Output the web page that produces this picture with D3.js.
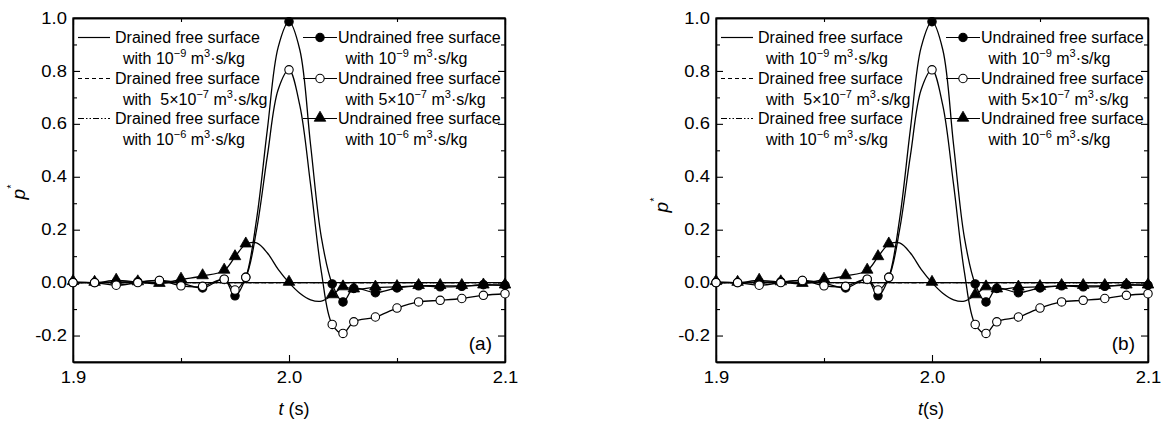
<!DOCTYPE html>
<html>
<head>
<meta charset="utf-8">
<script src="https://cdn.jsdelivr.net/npm/d3@7"></script>
<style>
  html, body { margin: 0; padding: 0; background: #fff; }
  svg { display: block; font-family: "Liberation Sans", Arial, sans-serif; }
  text { white-space: pre; }
</style>
</head>
<body>
<svg id="chart" width="1164" height="423"></svg>
<script>
// ---------------- data ----------------
const tLine = [1.90, 1.91, 1.92, 1.93, 1.94, 1.95, 1.96, 1.97, 1.975, 1.98, 1.985, 1.99, 1.995, 2.00,
               2.005, 2.01, 2.015, 2.02, 2.025, 2.03, 2.04, 2.05, 2.06, 2.07, 2.08, 2.09, 2.10];
// times at which markers are shown
const markerT = [1.90, 1.91, 1.92, 1.93, 1.94, 1.95, 1.96, 1.97, 1.975, 1.98, 2.00,
                 2.02, 2.025, 2.03, 2.04, 2.05, 2.06, 2.07, 2.08, 2.09, 2.10];
// undrained free surface, k = 1e-9
const undrained9 = [0.0, 0.0, 0.002, 0.003, 0.008, -0.002, -0.02, 0.012, -0.05, 0.02, 0.24, 0.58, 0.89, 0.986,
                    0.88, 0.52, 0.17, -0.005, -0.073, -0.022, -0.038, -0.02, -0.012, -0.016, -0.014, -0.008, -0.01];
// undrained free surface, k = 5e-7
const undrained57 = [0.0, 0.0, -0.01, 0.0, 0.008, -0.012, -0.014, 0.013, -0.028, 0.02, 0.2, 0.48, 0.73, 0.804,
                     0.67, 0.37, 0.04, -0.158, -0.192, -0.148, -0.13, -0.096, -0.073, -0.067, -0.06, -0.048, -0.042];
// undrained free surface, k = 1e-6
const undrained6 = [0.003, 0.0, 0.008, 0.002, -0.004, 0.012, 0.025, 0.046, 0.097, 0.145, 0.15, 0.112, 0.05, 0.0,
                    -0.04, -0.065, -0.07, -0.047, -0.017, -0.025, -0.018, -0.016, -0.012, -0.012, -0.012, -0.01, -0.01];
// drained free surface (all three permeabilities coincide at zero)
const tDrained = [1.90, 1.95, 2.00, 2.05, 2.10];
const drained9 = [0, 0, 0, 0, 0];
const drained57 = [0, 0, 0, 0, 0];
const drained6 = [0, 0, 0, 0, 0];

const xMajor = [1.9, 2.0, 2.1];
const xMinor = [1.95, 2.05];
const xTickLabels = ["1.9", "2.0", "2.1"];
const yMajor = [-0.2, 0.0, 0.2, 0.4, 0.6, 0.8, 1.0];
const yMinor = [-0.1, 0.1, 0.3, 0.5, 0.7, 0.9];
const yTickLabels = ["-0.2", "0.0", "0.2", "0.4", "0.6", "0.8", "1.0"];

const permBase = ["10", "5×10", "10"];
const permExp = ["−9", "−7", "−6"];
const drainedLabel = "Drained free surface";
const undrainedLabel = "Undrained free surface";
const panelLabels = ["(a)", "(b)"];

// ---------------- drawing ----------------
const svg = d3.select("#chart");
const dashes = [null, "4,3", "6,2,1.5,2,1.5,2"];
const drainedSeries = [drained9, drained57, drained6];
const undrainedSeries = [undrained9, undrained57, undrained6];
const markerKinds = ["filledCircle", "openCircle", "triangle"];

function drawMarker(g, kind, x, y) {
  if (kind === "triangle") {
    g.append("path")
      .attr("d", d3.symbol().type(d3.symbolTriangle).size(58)())
      .attr("transform", `translate(${x},${y - 0.6})`)
      .attr("fill", "#000").attr("stroke", "#000").attr("stroke-width", 0.8);
  } else {
    g.append("circle").attr("cx", x).attr("cy", y).attr("r", 4.2)
      .attr("fill", kind === "filledCircle" ? "#000" : "#fff")
      .attr("stroke", "#000").attr("stroke-width", 1.1);
  }
}

function permText(textSel, prefix, i) {
  textSel.append("tspan").text(prefix + permBase[i]);
  textSel.append("tspan").attr("font-size", 11).attr("dy", -7).text(permExp[i]);
  textSel.append("tspan").attr("dy", 7).text(" m");
  textSel.append("tspan").attr("font-size", 11).attr("dy", -7).text("3");
  textSel.append("tspan").attr("dy", 7).text("·s/kg");
}

function drawPanel(left, right, top, bottom, label, xLabelText, xLabelX, yLabelY) {
  const g = svg.append("g");
  const x = d3.scaleLinear().domain([1.9, 2.1]).range([left, right]);
  const y = d3.scaleLinear().domain([-0.3, 1.0]).range([bottom, top]);
  const stretch = "scale(1.15,1)";

  // axes
  const axB = g.append("g").attr("transform", `translate(0,${bottom})`)
    .call(d3.axisBottom(x).tickValues(xMajor).tickSizeInner(-7).tickSizeOuter(0).tickPadding(10)
      .tickFormat((d, i) => xTickLabels[i]));
  axB.selectAll("text").attr("transform", stretch);
  g.append("g").attr("transform", `translate(0,${bottom})`)
    .call(d3.axisBottom(x).tickValues(xMinor).tickSizeInner(-4).tickSizeOuter(0).tickFormat(""));
  g.append("g").attr("transform", `translate(0,${top})`)
    .call(d3.axisTop(x).tickValues(xMajor).tickSizeInner(-7).tickSizeOuter(0).tickFormat(""));
  g.append("g").attr("transform", `translate(0,${top})`)
    .call(d3.axisTop(x).tickValues(xMinor).tickSizeInner(-4).tickSizeOuter(0).tickFormat(""));

  const axL = g.append("g").attr("transform", `translate(${left},0)`)
    .call(d3.axisLeft(y).tickValues(yMajor).tickSizeInner(-7).tickSizeOuter(0).tickPadding(5.3)
      .tickFormat((d, i) => yTickLabels[i]));
  axL.selectAll("text").attr("transform", stretch);
  g.append("g").attr("transform", `translate(${left},0)`)
    .call(d3.axisLeft(y).tickValues(yMinor).tickSizeInner(-4).tickSizeOuter(0).tickFormat(""));
  g.append("g").attr("transform", `translate(${right},0)`)
    .call(d3.axisRight(y).tickValues(yMajor).tickSizeInner(-7).tickSizeOuter(0).tickFormat(""));
  g.append("g").attr("transform", `translate(${right},0)`)
    .call(d3.axisRight(y).tickValues(yMinor).tickSizeInner(-4).tickSizeOuter(0).tickFormat(""));

  g.selectAll(".domain").attr("stroke", "#000").attr("stroke-width", 1.3);
  g.selectAll(".tick line").attr("stroke", "#000").attr("stroke-width", 1.1);
  g.selectAll(".tick text").attr("font-size", 16).attr("fill", "#000")
    .attr("font-family", "'Liberation Sans', Arial, sans-serif");

  // frame
  g.append("rect").attr("x", left).attr("y", top).attr("width", right - left).attr("height", bottom - top)
    .attr("fill", "none").attr("stroke", "#000").attr("stroke-width", 1.3);

  const line = d3.line().curve(d3.curveCatmullRom.alpha(0.5));

  // drained lines
  drainedSeries.forEach((vals, s) => {
    g.append("path")
      .attr("d", line(tDrained.map((t, i) => [x(t), y(vals[i])])))
      .attr("fill", "none").attr("stroke", "#000").attr("stroke-width", 1.4)
      .attr("stroke-dasharray", dashes[s]);
  });

  // undrained lines + markers
  undrainedSeries.forEach((vals, s) => {
    g.append("path")
      .attr("d", line(tLine.map((t, i) => [x(t), y(vals[i])])))
      .attr("fill", "none").attr("stroke", "#000").attr("stroke-width", 1.3);
  });
  [0, 2, 1].forEach(s => {
    const vals = undrainedSeries[s];
    const mg = g.append("g");
    tLine.forEach((t, i) => {
      if (markerT.some(m => Math.abs(m - t) < 1e-9)) drawMarker(mg, markerKinds[s], x(t), y(vals[i]));
    });
  });

  // legend
  const rowY = [37.5, 78.5, 118.5];
  const lineOff = 26.5;
  for (let i = 0; i < 3; i++) {
    // drained column
    g.append("line").attr("x1", left + 5).attr("x2", left + 37).attr("y1", rowY[i]).attr("y2", rowY[i])
      .attr("stroke", "#000").attr("stroke-width", 1.2).attr("stroke-dasharray", dashes[i]);
    g.append("text").attr("x", left + 42).attr("y", rowY[i] + 5.7).attr("font-size", 16)
      .text(drainedLabel);
    permText(g.append("text").attr("x", left + 50).attr("y", rowY[i] + lineOff).attr("font-size", 16),
      i === 1 ? "with  " : "with ", i);
    // undrained column
    g.append("line").attr("x1", left + 230).attr("x2", left + 264).attr("y1", rowY[i]).attr("y2", rowY[i])
      .attr("stroke", "#000").attr("stroke-width", 1.2);
    drawMarker(g, markerKinds[i], left + 247, rowY[i]);
    g.append("text").attr("x", left + 265).attr("y", rowY[i] + 5.7).attr("font-size", 16)
      .text(undrainedLabel);
    permText(g.append("text").attr("x", left + 272.5).attr("y", rowY[i] + lineOff).attr("font-size", 16),
      "with ", i);
  }

  // panel label
  g.append("text").attr("x", right - 13).attr("y", bottom - 12).attr("text-anchor", "end")
    .attr("font-size", 19).text(label);

  // x label
  const xl = g.append("text").attr("x", xLabelX).attr("y", 415).attr("text-anchor", "middle")
    .attr("font-size", 18);
  xl.append("tspan").attr("font-style", "italic").text("t");
  xl.append("tspan").text(xLabelText);

  // y label
  const yl = g.append("text").attr("transform", `translate(${left - 48},${yLabelY}) rotate(-90)`)
    .attr("text-anchor", "middle").attr("font-size", 19);
  yl.append("tspan").attr("font-style", "italic").text("p");
  yl.append("tspan").attr("font-size", 11).attr("dy", -10).text("*");
}

drawPanel(73, 505, 18, 362, panelLabels[0], " (s)", 294, 192);
drawPanel(716, 1148, 18, 362, panelLabels[1], "(s)", 931, 205);
</script>
</body>
</html>
